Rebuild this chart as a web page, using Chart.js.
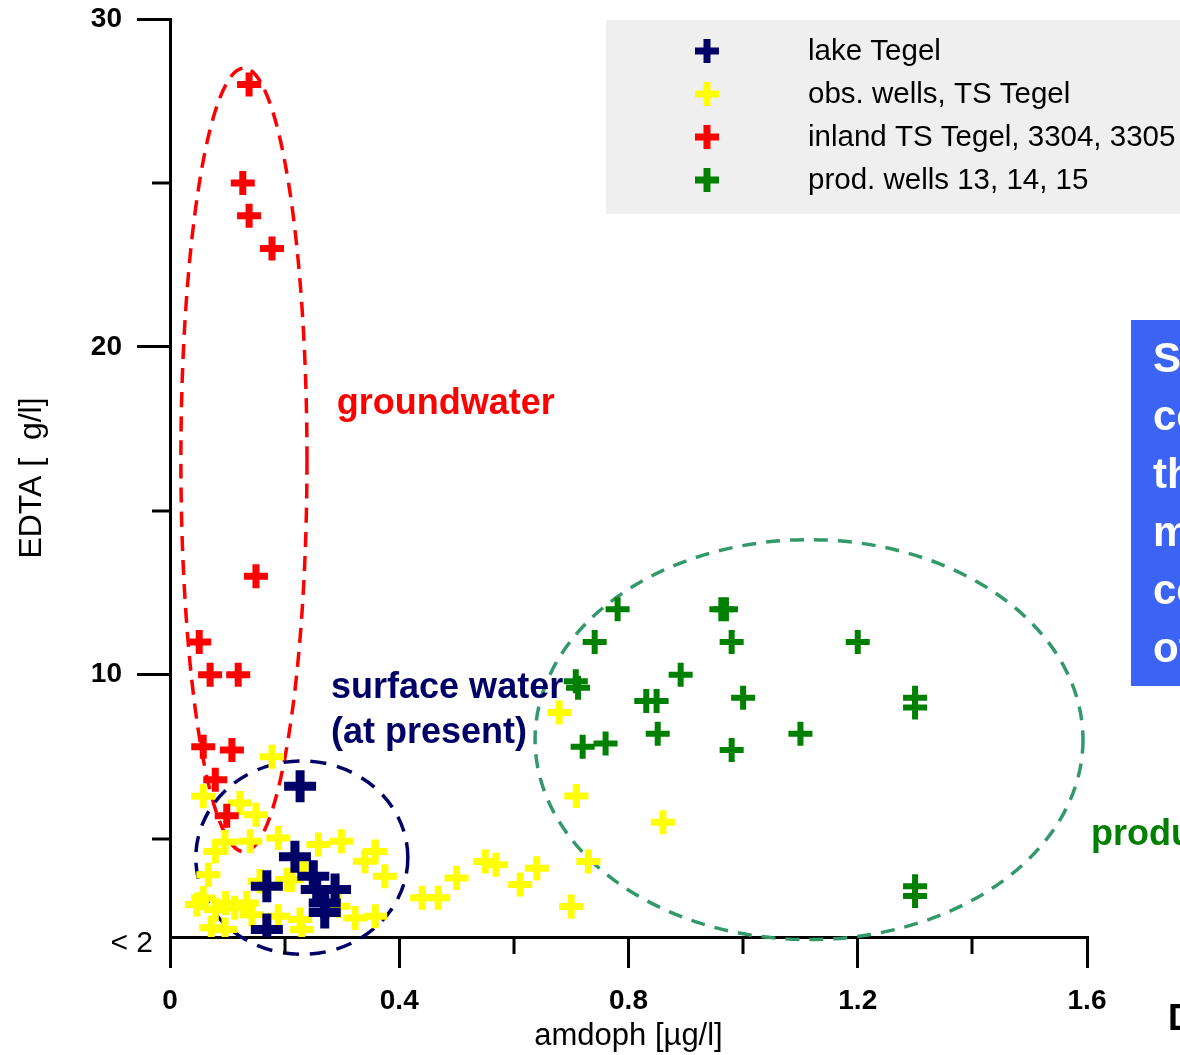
<!DOCTYPE html>
<html>
<head>
<meta charset="utf-8">
<script src="https://cdn.jsdelivr.net/npm/chart.js@4.4.0/dist/chart.umd.min.js"></script>
<style>
  html, body { margin: 0; padding: 0; background: #fff; }
  #wrap { position: relative; width: 1180px; height: 1055px; overflow: hidden; }
</style>
</head>
<body>
<div id="wrap"><canvas id="scatter" width="1180" height="1055"></canvas></div>
<script>
// --- data ---
const lakeX = [0.227, 0.218, 0.169, 0.250, 0.288, 0.256, 0.270, 0.270, 0.169];
const lakeY = [6.6, 4.45, 3.55, 3.85, 3.45, 3.45, 3.04, 2.75, 2.23];

const obsX = [0.178, 0.679, 0.709, 0.860, 0.730, 0.700, 0.375, 0.440, 0.468, 0.500, 0.550, 0.569, 0.611, 0.640,
  0.058, 0.122, 0.150, 0.096, 0.140, 0.189, 0.079, 0.067, 0.157, 0.204, 0.058, 0.047, 0.097, 0.079, 0.134,
  0.143, 0.113, 0.072, 0.096, 0.189, 0.259, 0.299, 0.358, 0.340, 0.233, 0.212, 0.323, 0.358, 0.227, 0.230, 0.294];
const obsY = [7.5, 8.85, 6.3, 5.5, 4.3, 2.93, 3.85, 3.2, 3.2, 3.8, 4.3, 4.2, 3.6, 4.1,
  6.29, 6.09, 5.73, 4.9, 4.92, 5.02, 4.61, 3.9, 3.7, 3.75, 3.19, 2.99, 3.04, 2.84, 3.04,
  2.68, 2.89, 2.28, 2.23, 2.63, 4.82, 4.92, 4.61, 4.31, 4.16, 3.75, 2.58, 2.63, 2.53, 2.23, 2.94];

const inlandX = [0.138, 0.127, 0.138, 0.178, 0.150, 0.051, 0.070, 0.119, 0.058, 0.108, 0.079, 0.099];
const inlandY = [28.0, 25.0, 24.0, 23.0, 13.0, 11.0, 10.0, 10.0, 7.8, 7.7, 6.8, 5.7];

const prodX = [0.781, 0.962, 0.970, 0.741, 0.980, 1.200, 0.891, 0.708, 0.712, 0.831, 0.849, 1.000, 1.300,
  1.300, 0.851, 1.100, 0.720, 0.760, 0.980, 1.300, 1.300];
const prodY = [12.0, 12.0, 12.0, 11.0, 11.0, 11.0, 10.0, 9.8, 9.6, 9.2, 9.2, 9.3, 9.3,
  9.0, 8.2, 8.2, 7.8, 7.9, 7.7, 3.55, 3.25];

const seriesNames = ["lake Tegel", "obs. wells, TS Tegel", "inland TS Tegel, 3304, 3305", "prod. wells 13, 14, 15"];

const xLabeled = [0, 0.4, 0.8, 1.2, 1.6];
const xMinor = [0.2, 0.6, 1.0, 1.4];
const yTickValues = [2, 5, 10, 15, 20, 25, 30];
const yLabeled = [10, 20, 30];
const yMinor = [5, 15, 25];

const toPoints = (xs, ys) => xs.map((x, i) => ({ x: x, y: ys[i] }));

// dashed outlines around the groups (data units)
const outlines = [
  { cx: 0.129, cy: 16.55, rx: 0.110, ry: 11.95, color: "#ff0000", dash: [15, 9], width: 3.5 },
  { cx: 0.230, cy: 4.42, rx: 0.185, ry: 2.95, color: "#000066", dash: [16, 11], width: 3.5 },
  { cx: 1.115, cy: 8.02, rx: 0.478, ry: 6.1, color: "#33996a", dash: [14, 10], width: 3.5 },
];

const FONT = "'Liberation Sans', Arial, sans-serif";

const decorPlugin = {
  id: "decor",
  beforeDatasetsDraw(chart) {
    const { ctx, scales: { x, y } } = chart;
    ctx.save();
    // ellipses
    outlines.forEach((o) => {
      const px = x.getPixelForValue(o.cx);
      const py = y.getPixelForValue(o.cy);
      const rx = x.getPixelForValue(o.cx + o.rx) - px;
      const ry = py - y.getPixelForValue(o.cy + o.ry);
      ctx.beginPath();
      ctx.setLineDash(o.dash);
      ctx.lineWidth = o.width;
      ctx.strokeStyle = o.color;
      ctx.ellipse(px, py, rx, ry, 0, 0, Math.PI * 2);
      ctx.stroke();
    });
    ctx.setLineDash([]);
    // group labels
    ctx.font = "bold 36px " + FONT;
    ctx.textBaseline = "middle";
    ctx.textAlign = "left";
    ctx.fillStyle = "#ff0000";
    ctx.fillText("groundwater", x.getPixelForValue(0.291), y.getPixelForValue(18.26));
    ctx.fillStyle = "#000066";
    ctx.fillText("surface water", x.getPixelForValue(0.281), y.getPixelForValue(9.6));
    ctx.fillText("(at present)", x.getPixelForValue(0.281), y.getPixelForValue(8.23));
    ctx.fillStyle = "#008000";
    ctx.fillText("production wells", x.getPixelForValue(1.607), y.getPixelForValue(5.1));
    ctx.restore();
  },
  afterDraw(chart) {
    const { ctx, scales: { x, y } } = chart;
    ctx.save();
    // minor ticks
    ctx.strokeStyle = "#000";
    ctx.lineWidth = 3;
    xMinor.forEach((v) => {
      const px = Math.round(x.getPixelForValue(v));
      ctx.beginPath();
      ctx.moveTo(px, y.bottom);
      ctx.lineTo(px, y.bottom + 17);
      ctx.stroke();
    });
    yMinor.forEach((v) => {
      const py = Math.round(y.getPixelForValue(v));
      ctx.beginPath();
      ctx.moveTo(x.left - 18, py);
      ctx.lineTo(x.left, py);
      ctx.stroke();
    });
    // "< 2" label
    ctx.fillStyle = "#000";
    ctx.font = "30px " + FONT;
    ctx.textAlign = "right";
    ctx.textBaseline = "middle";
    ctx.fillText("< 2", x.left - 17, y.getPixelForValue(2) + 7);

    // legend box
    ctx.fillStyle = "#efefef";
    ctx.fillRect(606, 20, 600, 194);
    chart.data.datasets.forEach((ds, i) => {
      const cy = 51 + i * 43;
      ctx.strokeStyle = ds.borderColor;
      ctx.lineWidth = 7;
      ctx.beginPath();
      ctx.moveTo(695, cy); ctx.lineTo(719, cy);
      ctx.moveTo(707, cy - 12); ctx.lineTo(707, cy + 12);
      ctx.stroke();
      ctx.fillStyle = "#000";
      ctx.font = "29.5px " + FONT;
      ctx.textAlign = "left";
      ctx.fillText(ds.label, 808, cy + 1);
    });

    // side note box (cut off at the right edge)
    ctx.fillStyle = "#3c64f4";
    ctx.fillRect(1131, 320, 80, 366);
    ctx.fillStyle = "#fff";
    ctx.font = "bold 42px " + FONT;
    ["Surface water", "contributes to", "the", "mixture in", "composition", "of wells"].forEach((t, i) => {
      ctx.fillText(t, 1153, 360 + i * 58);
    });
    ctx.fillStyle = "#000";
    ctx.font = "bold 36px " + FONT;
    ctx.fillText("D", 1168, 1020);
    ctx.restore();
  },
};

const ctx = document.getElementById("scatter").getContext("2d");
const myChart = new Chart(ctx, {
  type: "scatter",
  data: {
    datasets: [
      { label: seriesNames[0], data: toPoints(lakeX, lakeY), borderColor: "#000066", backgroundColor: "#000066",
        pointStyle: "cross", pointRadius: 16, borderWidth: 9, order: 0 },
      { label: seriesNames[1], data: toPoints(obsX, obsY), borderColor: "#ffff00", backgroundColor: "#ffff00",
        pointStyle: "cross", pointRadius: 12, borderWidth: 7, order: 3 },
      { label: seriesNames[2], data: toPoints(inlandX, inlandY), borderColor: "#ff0000", backgroundColor: "#ff0000",
        pointStyle: "cross", pointRadius: 12, borderWidth: 7, order: 1 },
      { label: seriesNames[3], data: toPoints(prodX, prodY), borderColor: "#008000", backgroundColor: "#008000",
        pointStyle: "cross", pointRadius: 12, borderWidth: 6, order: 2 },
    ],
  },
  options: {
    responsive: false,
    animation: false,
    devicePixelRatio: 1,
    events: [],
    layout: { autoPadding: false, padding: { top: 19, right: 93, left: 0, bottom: 0 } },
    plugins: { legend: { display: false }, tooltip: { enabled: false } },
    scales: {
      x: {
        type: "linear",
        min: 0,
        max: 1.6,
        afterFit: (scale) => {
          scale.height = 118;
          scale.paddingLeft = 0;
          scale.paddingRight = 0;
        },
        border: { color: "#000", width: 3 },
        grid: {
          drawOnChartArea: false,
          tickLength: 31,
          lineWidth: 3,
          tickColor: (c) => (c.tick && xLabeled.some((v) => Math.abs(v - c.tick.value) < 1e-6) ? "#000" : "rgba(0,0,0,0)"),
        },
        ticks: {
          stepSize: 0.2,
          autoSkip: false,
          maxRotation: 0,
          padding: 16,
          color: "#000",
          font: { family: FONT, size: 28, weight: "bold" },
          callback: (v) => {
            const r = Math.round(v * 10) / 10;
            return xLabeled.some((l) => Math.abs(l - r) < 1e-6) ? String(r) : "";
          },
        },
        title: {
          display: true,
          text: "amdoph [µg/l]",
          color: "#000",
          font: { family: FONT, size: 31 },
          padding: { top: 0, bottom: 0 },
        },
      },
      y: {
        type: "linear",
        min: 2,
        max: 30,
        afterFit: (scale) => {
          scale.width = 170;
          scale.paddingTop = 0;
          scale.paddingBottom = 0;
        },
        afterBuildTicks: (scale) => { scale.ticks = yTickValues.map((v) => ({ value: v })); },
        border: { color: "#000", width: 3 },
        grid: {
          drawOnChartArea: false,
          tickLength: 33,
          lineWidth: 3,
          tickColor: (c) => (c.tick && yLabeled.includes(c.tick.value) ? "#000" : "rgba(0,0,0,0)"),
        },
        ticks: {
          autoSkip: false,
          padding: 15,
          color: "#000",
          font: { family: FONT, size: 28, weight: "bold" },
          callback: (v) => (yLabeled.includes(v) ? String(v) : ""),
        },
        title: {
          display: true,
          text: "EDTA [  g/l]",
          color: "#000",
          font: { family: FONT, size: 32 },
          padding: { top: 13, bottom: 0 },
        },
      },
    },
  },
  plugins: [decorPlugin],
});
</script>
</body>
</html>
